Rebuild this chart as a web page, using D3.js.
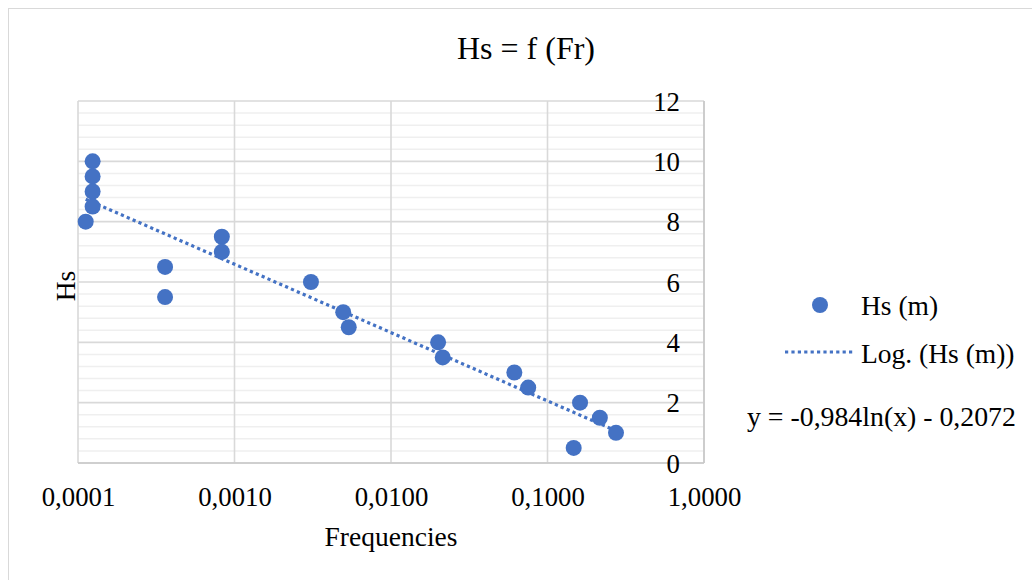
<!DOCTYPE html>
<html>
<head>
<meta charset="utf-8">
<script src="https://cdn.jsdelivr.net/npm/d3@7"></script>
<style>
  html, body { margin: 0; padding: 0; background: #fff; }
  svg { display: block; font-family: "Liberation Serif", "Times New Roman", serif; }
</style>
</head>
<body>
<svg id="chart" width="1032" height="580"></svg>
<script>
// ---- data ----
const title = "Hs = f (Fr)";
const xTitle = "Frequencies";
const yTitle = "Hs";
const seriesName = "Hs (m)";
const trendName = "Log. (Hs (m))";
const trendEquation = "y = -0,984ln(x) - 0,2072";
const trendA = -0.984;
const trendB = -0.2072;

const frequencies = [0.000124, 0.000124, 0.000124, 0.000124, 0.000112,
                     0.00083, 0.00083, 0.00036, 0.00036, 0.00308,
                     0.00495, 0.00537, 0.0200, 0.0214, 0.0614,
                     0.0753, 0.1614, 0.216, 0.274, 0.147];
const hsValues = [10, 9.5, 9, 8.5, 8,
                  7.5, 7, 6.5, 5.5, 6,
                  5, 4.5, 4, 3.5, 3,
                  2.5, 2, 1.5, 1, 0.5];

const xTickValues = [0.0001, 0.001, 0.01, 0.1, 1];
const xTickLabels = ["0,0001", "0,0010", "0,0100", "0,1000", "1,0000"];
const yTickValues = [0, 2, 4, 6, 8, 10, 12];
const yTickLabels = ["0", "2", "4", "6", "8", "10", "12"];
const yMinorStep = 0.4;

// ---- layout ----
const svg = d3.select("#chart");
const W = 1032, H = 580;
const plot = { left: 78, right: 704, top: 101, bottom: 463 };
const blue = "#4472C4";
const serif = "Liberation Serif, Times New Roman, serif";

const x = d3.scaleLog().domain([0.0001, 1]).range([plot.left, plot.right]);
const y = d3.scaleLinear().domain([0, 12]).range([plot.bottom, plot.top]);

// chart frame
svg.append("rect").attr("x", 8.5).attr("y", 8.5).attr("width", W + 20).attr("height", H + 20)
  .attr("fill", "#fff").attr("stroke", "#d9d9d9").attr("stroke-width", 1);

// minor horizontal gridlines
const minorVals = d3.range(0, 12 + 1e-9, yMinorStep).filter(v => Math.abs(v / 2 - Math.round(v / 2)) > 1e-6);
svg.append("g").selectAll("line").data(minorVals).join("line")
  .attr("x1", plot.left).attr("x2", plot.right)
  .attr("y1", d => y(d)).attr("y2", d => y(d))
  .attr("stroke", "#efefef").attr("stroke-width", 1.5);

// major horizontal gridlines
svg.append("g").selectAll("line").data(yTickValues).join("line")
  .attr("x1", plot.left).attr("x2", plot.right)
  .attr("y1", d => y(d)).attr("y2", d => y(d))
  .attr("stroke", "#d9d9d9").attr("stroke-width", 1.6);

// vertical major gridlines
svg.append("g").selectAll("line").data(xTickValues).join("line")
  .attr("x1", d => x(d)).attr("x2", d => x(d))
  .attr("y1", plot.top).attr("y2", plot.bottom)
  .attr("stroke", "#d9d9d9").attr("stroke-width", 1.6);

// right & bottom plot edges (slightly darker)
svg.append("line").attr("x1", plot.right).attr("x2", plot.right).attr("y1", plot.top).attr("y2", plot.bottom)
  .attr("stroke", "#c8c8c8").attr("stroke-width", 1.6);
svg.append("line").attr("x1", plot.left).attr("x2", plot.right).attr("y1", plot.bottom).attr("y2", plot.bottom)
  .attr("stroke", "#c8c8c8").attr("stroke-width", 1.6);

// x axis labels
const xAxis = d3.axisBottom(x).tickValues(xTickValues)
  .tickFormat((d, i) => xTickLabels[i]).tickSize(0).tickPadding(0);
const gx = svg.append("g").attr("transform", `translate(0,${plot.bottom})`).call(xAxis);
gx.attr("font-family", serif);
gx.select(".domain").remove();
gx.selectAll("text").attr("y", 34).attr("dy", "0.32em")
  .attr("font-family", serif).attr("font-size", 26.8).attr("fill", "#000");

// y axis labels (right-aligned inside right side, as in reference)
const yAxis = d3.axisLeft(y).tickValues(yTickValues)
  .tickFormat((d, i) => yTickLabels[i]).tickSize(0).tickPadding(0);
const gy = svg.append("g").attr("transform", `translate(680,0)`).call(yAxis);
gy.attr("font-family", serif);
gy.select(".domain").remove();
gy.selectAll("text").attr("x", 0).attr("dy", "0.34em")
  .attr("font-family", serif).attr("font-size", 26.8).attr("fill", "#000");

// trendline
const xMin = d3.min(frequencies), xMax = d3.max(frequencies);
const trendPts = [xMin, xMax].map(v => [v, trendA * Math.log(v) + trendB]);
svg.append("path")
  .attr("d", d3.line().x(d => x(d[0])).y(d => y(d[1]))(trendPts))
  .attr("fill", "none").attr("stroke", blue).attr("stroke-width", 3.2)
  .attr("stroke-dasharray", "3.2,3.2");

// points
svg.append("g").selectAll("circle").data(frequencies.map((f, i) => [f, hsValues[i]])).join("circle")
  .attr("cx", d => x(d[0])).attr("cy", d => y(d[1])).attr("r", 8)
  .attr("fill", blue);

// title
svg.append("text").attr("x", 526).attr("y", 48).attr("dy", "0.35em")
  .attr("font-family", serif)
  .attr("text-anchor", "middle").attr("font-size", 32).attr("fill", "#000").text(title);

// axis titles
svg.append("text").attr("x", 391).attr("y", 536).attr("dy", "0.35em")
  .attr("font-family", serif)
  .attr("text-anchor", "middle").attr("font-size", 27.5).attr("fill", "#000").text(xTitle);
svg.append("text").attr("transform", "translate(65,286) rotate(-90)").attr("dy", "0.35em")
  .attr("font-family", serif)
  .attr("text-anchor", "middle").attr("font-size", 27.5).attr("fill", "#000").text(yTitle);

// legend
const lg = svg.append("g").attr("font-family", serif);
lg.append("circle").attr("cx", 820).attr("cy", 305).attr("r", 8).attr("fill", blue);
lg.append("text").attr("x", 861).attr("y", 305).attr("dy", "0.35em")
  .attr("font-size", 27.5).attr("fill", "#000").text(seriesName);
lg.append("line").attr("x1", 785).attr("x2", 855).attr("y1", 352).attr("y2", 352)
  .attr("stroke", blue).attr("stroke-width", 3.2).attr("stroke-dasharray", "3.2,3.2");
lg.append("text").attr("x", 861).attr("y", 353).attr("dy", "0.35em")
  .attr("font-size", 27.5).attr("fill", "#000").text(trendName);
lg.append("text").attr("x", 747).attr("y", 416).attr("dy", "0.35em")
  .attr("font-size", 27.8).attr("fill", "#000").text(trendEquation);
</script>
</body>
</html>
